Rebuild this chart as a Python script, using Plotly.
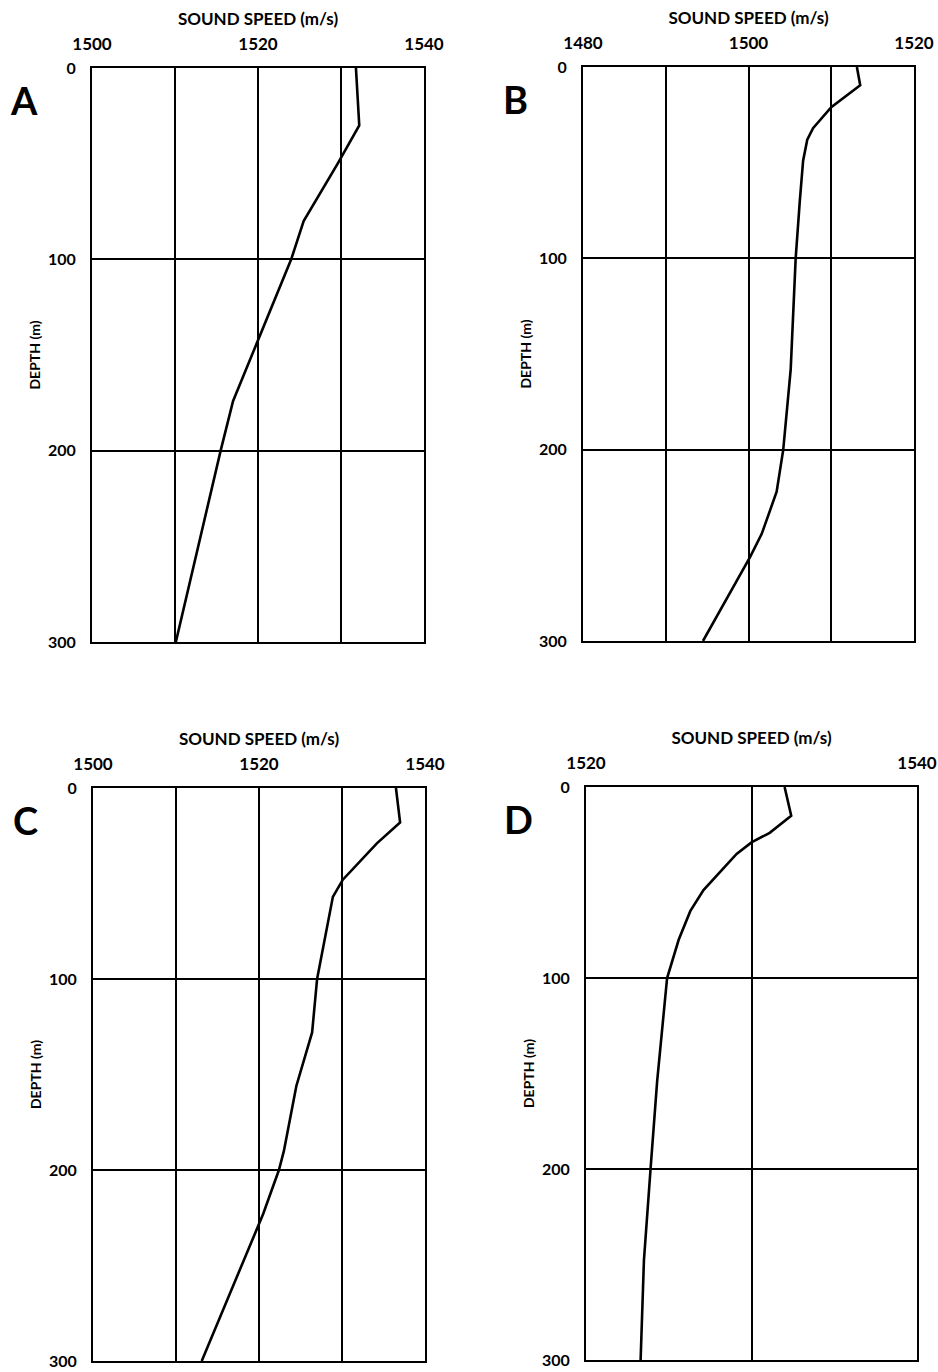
import plotly.graph_objects as go
from plotly.subplots import make_subplots

# sound speed profiles
depth_a = [0, 30, 50, 80, 100, 142, 174, 200, 226, 300]
speed_a = [1531.8, 1532.2, 1529.6, 1525.5, 1524.0, 1520.0, 1517.0, 1515.5, 1514.1, 1510.1]

depth_b = [0, 9.5, 21, 32, 38, 49, 70, 100, 158, 200, 222, 244, 256, 300]
speed_b = [1513.1, 1513.5, 1510.0, 1507.8, 1507.1, 1506.6, 1506.2, 1505.7, 1505.1, 1504.2, 1503.4, 1501.6, 1500.2, 1494.5]

depth_c = [0, 18, 29, 48, 57, 100, 128, 156, 190, 200, 223, 300]
speed_c = [1536.5, 1537.0, 1534.2, 1530.1, 1528.9, 1527.0, 1526.4, 1524.5, 1523.0, 1522.4, 1520.5, 1513.1]

depth_d = [0, 15, 24, 29, 35, 54, 65, 80, 100, 154, 200, 248, 300]
speed_d = [1532.0, 1532.4, 1531.1, 1530.0, 1529.1, 1527.1, 1526.3, 1525.6, 1524.9, 1524.3, 1523.9, 1523.5, 1523.3]

x_ranges = [[1500, 1540], [1480, 1520], [1500, 1540], [1520, 1540]]
depth_ticks = [0, 100, 200, 300]
panel_letters = ["A", "B", "C", "D"]

profiles = [(depth_a, speed_a), (depth_b, speed_b), (depth_c, speed_c), (depth_d, speed_d)]

W, H = 938, 1372
# plot areas in pixels (left, right, top, bottom)
boxes = [(92, 424, 68, 642), (583, 914, 67, 641), (93, 425, 788, 1361), (586, 917, 787, 1360)]

FONT = "Lato"

fig = make_subplots(rows=2, cols=2)

for i, (dep, spd) in enumerate(profiles):
    r, c = i // 2 + 1, i % 2 + 1
    fig.add_trace(go.Scatter(x=spd, y=dep, mode="lines",
                             line=dict(color="black", width=2.6),
                             showlegend=False, hoverinfo="skip"), row=r, col=c)

    lo, hi = x_ranges[i]
    grid = list(range(lo, hi + 1, 10))
    labels = [str(v) if (v - lo) % 20 == 0 else "" for v in grid]
    left, right, top, bottom = boxes[i]

    fig.update_xaxes(range=[lo, hi], side="top", tickvals=grid, ticktext=labels,
                     showgrid=True, gridcolor="black", gridwidth=1.6,
                     showline=True, linecolor="black", linewidth=2, mirror=True,
                     zeroline=False, ticks="", ticklabelstandoff=9, automargin=False,
                     ticklabeloverflow="allow",
                     tickfont=dict(family=FONT, size=17, color="black", weight="bold"),
                     title=dict(text="SOUND SPEED (m/s)", standoff=3,
                                font=dict(family=FONT, size=17, color="black", weight="bold")),
                     domain=[left / W, right / W], row=r, col=c)
    fig.update_yaxes(range=[300, 0], tickvals=depth_ticks,
                     showgrid=True, gridcolor="black", gridwidth=1.6,
                     showline=True, linecolor="black", linewidth=2, mirror=True,
                     zeroline=False, ticks="", ticklabelstandoff=11, automargin=False,
                     ticklabeloverflow="allow",
                     tickfont=dict(family=FONT, size=16, color="black", weight="bold"),
                     title=dict(text="DEPTH (m)", standoff=4,
                                font=dict(family=FONT, size=14, color="black", weight="bold")),
                     domain=[1 - bottom / H, 1 - top / H], row=r, col=c)

    fig.add_annotation(text=panel_letters[i], xref="paper", yref="paper",
                       x=(left - 68) / W, y=1 - (top + 32) / H,
                       showarrow=False, xanchor="center", yanchor="middle",
                       font=dict(family=FONT, size=38, color="black", weight="bold"))

fig.update_layout(width=W, height=H, margin=dict(l=0, r=0, t=0, b=0),
                  paper_bgcolor="white", plot_bgcolor="white")

# drop the default body margin so the figure fills the window exactly
fig.write_html("out.html", config={"displayModeBar": False},
               post_script="document.body.style.margin = '0'; document.body.style.overflow = 'hidden';")
